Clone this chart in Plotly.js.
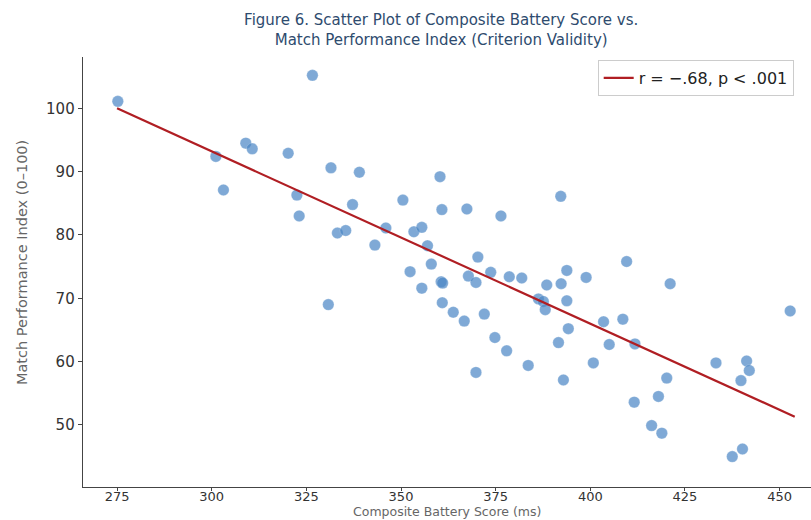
<!DOCTYPE html>
<html>
<head>
<meta charset="utf-8">
<script src="https://cdn.plot.ly/plotly-3.0.1.min.js"></script>
<style>html,body{margin:0;padding:0;background:#fff}#chart{width:811px;height:520px}</style>
</head>
<body>
<div id="chart"></div>
<script>
var batteryScore = [275.2,326.6,309.0,310.7,301.1,303.1,320.2,331.5,322.5,323.1,333.2,339.0,360.3,337.2,350.5,360.8,367.4,376.4,335.4,346.0,343.1,353.4,355.5,357.0,370.3,358.0,352.4,373.7,378.6,381.9,367.8,369.8,388.5,355.5,360.6,361.0,386.3,387.6,388.1,330.8,360.9,363.8,366.7,372.0,374.8,377.9,383.6,369.8,393.8,409.6,392.3,398.9,421.1,452.8,393.8,403.5,408.6,394.2,391.6,405.0,411.8,400.8,392.9,433.2,441.3,442.0,439.8,420.2,418.0,411.6,416.2,418.9,440.2,437.5,392.2];
var performanceIndex = [101.1,105.2,94.5,93.6,92.4,87.1,92.9,90.6,86.3,83.0,80.3,89.9,89.2,84.8,85.5,84.0,84.1,83.0,80.7,81.1,78.4,80.5,81.2,78.3,76.5,75.4,74.2,74.1,73.4,73.2,73.5,72.5,72.1,71.6,72.6,72.4,69.9,69.5,68.2,69.0,69.3,67.8,66.4,67.5,63.8,61.7,59.4,58.3,74.4,75.8,72.3,73.3,72.3,68.0,69.6,66.3,66.7,65.2,63.0,62.7,62.8,59.8,57.1,59.8,60.1,58.6,57.0,57.4,54.5,53.6,49.9,48.7,46.2,45.0,86.1];
var fitX = [275, 454];
var fitY = [100.0, 51.3];
var xTicks = [275,300,325,350,375,400,425,450];
var yTicks = [50,60,70,80,90,100];
var titleText = 'Figure 6. Scatter Plot of Composite Battery Score vs.<br>Match Performance Index (Criterion Validity)';
var xTitle = 'Composite Battery Score (ms)';
var yTitle = 'Match Performance Index (0\u2013100)';
var fitLabel = 'r = \u2212.68, p < .001';

var font = "DejaVu Sans, Verdana, sans-serif";
var traces = [
  {x: batteryScore, y: performanceIndex, mode: 'markers', type: 'scatter', showlegend: false,
   marker: {size: 11.5, color: '#4a86c5', opacity: 0.7, line: {color: 'rgba(255,255,255,0.5)', width: 0.5}}},
  {x: fitX, y: fitY, mode: 'lines', type: 'scatter', name: fitLabel,
   line: {color: '#B01E23', width: 2.2}}
];
var layout = {
  width: 811, height: 520,
  margin: {l: 83, r: 0, t: 57, b: 33},
  paper_bgcolor: '#fff', plot_bgcolor: '#fff',
  font: {family: font, color: '#333'},
  title: {text: titleText, font: {family: font, size: 15, color: '#2E4B6E'},
          xref: 'container', yref: 'container', x: 0.544, xanchor: 'center', y: 0.951, yanchor: 'middle'},
  xaxis: {range: [266.0, 458.3], tickvals: xTicks, ticks: 'outside', ticklen: 3, tickwidth: 1, tickcolor: '#444',
          showgrid: false, zeroline: false, showline: true, linecolor: '#444', linewidth: 1.3,
          ticklabelstandoff: -6, tickfont: {size: 13, color: '#333'}},
  yaxis: {range: [40.2, 108.1], tickvals: yTicks, ticks: 'outside', ticklen: 4, tickwidth: 1, tickcolor: '#444',
          showgrid: false, zeroline: false, showline: true, linecolor: '#444', linewidth: 1.3,
          tickfont: {size: 15, color: '#333'}},
  annotations: [
    {text: xTitle, xref: 'paper', yref: 'paper', x: 0.5, y: -0.058, xanchor: 'center', yanchor: 'middle',
     showarrow: false, font: {size: 12.5, color: '#666'}},
    {text: yTitle, xref: 'paper', yref: 'paper', x: -0.0838, y: 0.523, xanchor: 'center', yanchor: 'middle',
     textangle: -90, showarrow: false, font: {size: 14.5, color: '#666'}}
  ],
  legend: {x: 0.707, y: 0.993, xanchor: 'left', yanchor: 'top', bgcolor: 'rgba(255,255,255,0.9)',
           bordercolor: '#ccc', borderwidth: 1, itemwidth: 30, font: {size: 16, color: '#222'}}
};
Plotly.newPlot('chart', traces, layout, {displayModeBar: false, staticPlot: true});
</script>
</body>
</html>
